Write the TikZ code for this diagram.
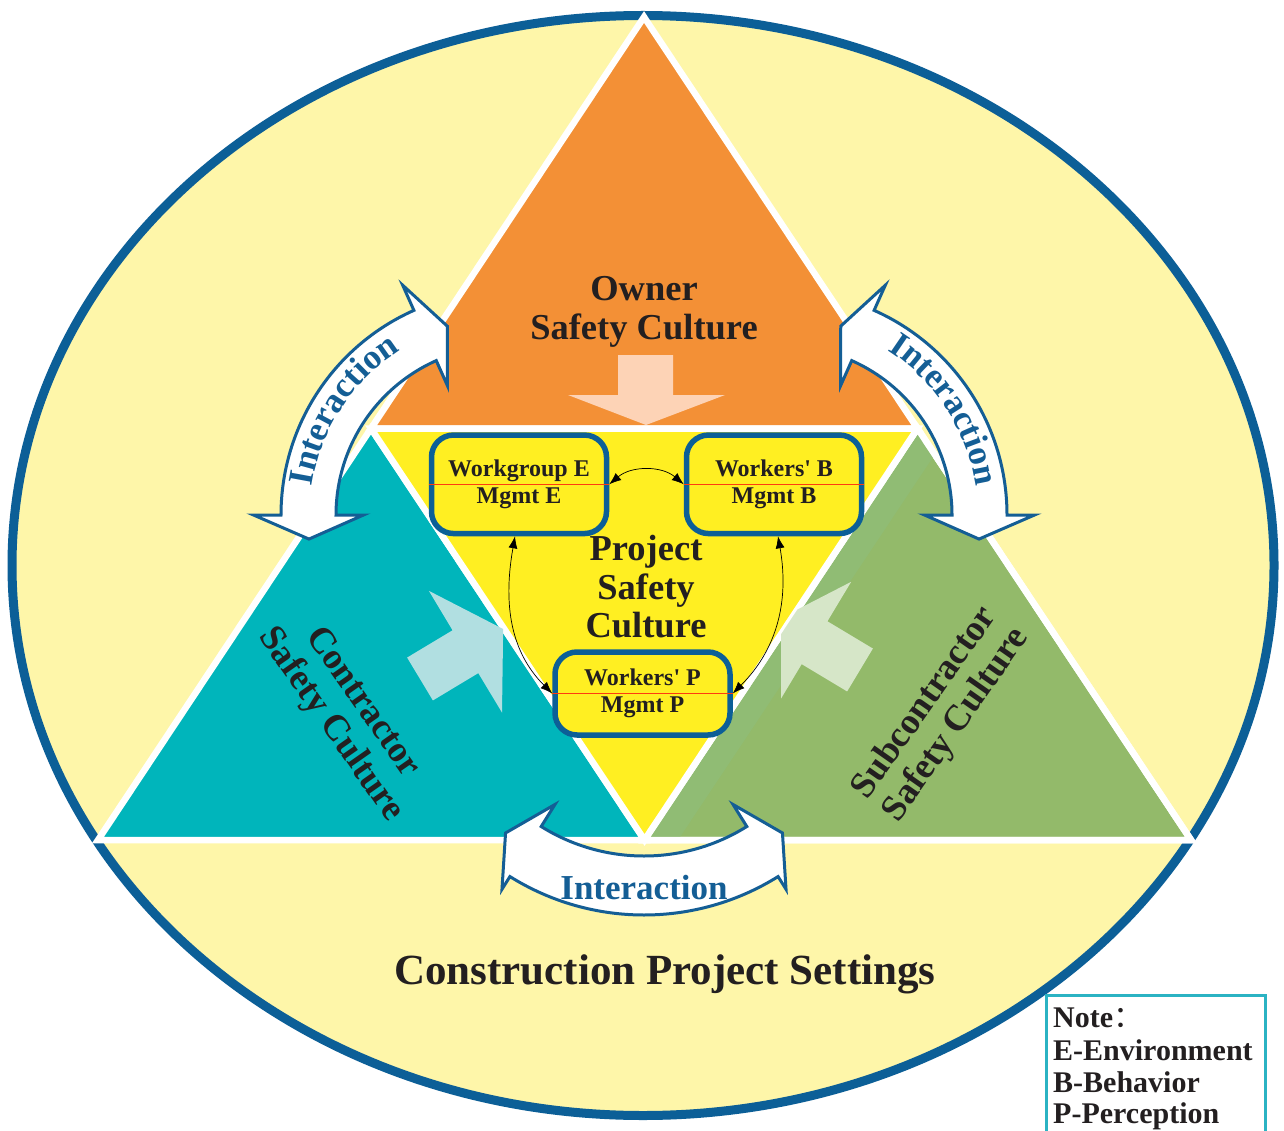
\documentclass[tikz,border=0pt]{standalone}
\usepackage{fontspec}
\setmainfont{Liberation Serif}
\newfontfamily\cjk{Noto Sans CJK SC}
\usetikzlibrary{arrows.meta,decorations.text}
\definecolor{ebg}{HTML}{FEF6A9}
\definecolor{eblue}{HTML}{0C5F97}
\definecolor{orng}{HTML}{F39036}
\definecolor{yel}{HTML}{FFEF22}
\definecolor{cyn}{HTML}{00B5BB}
\definecolor{grn}{HTML}{93BA6A}
\definecolor{grn2}{HTML}{90BC74}
\definecolor{peach}{HTML}{FDD3B6}
\definecolor{lcyn}{HTML}{B1DFE1}
\definecolor{lgrn}{HTML}{D6E6C8}
\definecolor{txt}{HTML}{231F20}
\definecolor{redl}{HTML}{FF3B10}
\definecolor{notec}{HTML}{2BB3C3}
\definecolor{ablue}{HTML}{145E95}
\newcommand{\myfs}[2]{\fontsize{#1}{#2}\selectfont}
\newcommand{\itxt}{\bfseries\fontsize{35}{35}\selectfont\color{ablue}}
\begin{document}
\begin{tikzpicture}[x=1pt, y=-1pt,
  tri/.style={draw=white, line width=6.5pt, line join=miter},
  iarrow/.style={fill=white, draw=ablue, line width=3pt, line join=miter},
  boxst/.style={draw=eblue, line width=5.5pt, fill=yel, rounded corners=22pt, minimum width=175pt, inner sep=0pt, align=center, text=txt, font=\bfseries\myfs{24}{26.5}},
  redline/.style={draw=redl, line width=1.5pt},
  conn/.style={draw=black, line width=0.7pt, {Latex[length=12pt,width=9pt]}-{Latex[length=12pt,width=9pt]}},
  ttl/.style={font=\bfseries\myfs{36.5}{38.5}, text=txt, inner sep=0pt},
  notetxt/.style={font=\bfseries\myfs{30}{32}, text=txt, inner sep=0pt, anchor=base west}
]
\useasboundingbox (0,0) rectangle (1284,1131);
\fill[white] (0,0) rectangle (1284,1131);
% ellipse
\draw[fill=ebg, draw=eblue, line width=9pt] (643,565.5) ellipse [x radius=631, y radius=550];
% triangle vertices
\coordinate (A) at (644,17);
\coordinate (BL) at (98,840);
\coordinate (BR) at (1191,840);
\coordinate (ML) at (371,428.5);
\coordinate (MR) at (917.5,428.5);
\coordinate (MB) at (644.5,840);
\filldraw[tri, fill=orng] (A) -- (ML) -- (MR) -- cycle;
\filldraw[tri, fill=cyn] (ML) -- (BL) -- (MB) -- cycle;
\filldraw[tri, fill=grn] (MR) -- (MB) -- (BR) -- cycle;
\begin{scope}
  \clip (MR) -- (MB) -- (BR) -- cycle;
  \fill[grn2] (MR) -- (MB) -- (678,840) -- (947,436) -- cycle;
\end{scope}
\draw[tri] (MR) -- (MB) -- (BR) -- cycle;
\filldraw[tri, fill=yel] (ML) -- (MR) -- (MB) -- cycle;
% light arrows
\fill[peach] (618,355) -- (673,355) -- (673,395) -- (725,395) -- (646,425) -- (568,395) -- (618,395) -- cycle;
\begin{scope}
  \clip (ML) -- (BL) -- (MB) -- cycle;
  \clip (0,0) rectangle (506,1131);
  \fill[lcyn, shift={(420,679)}, rotate=31] (0,-25) -- (53,-25) -- (53,-71) -- (97,0) -- (53,71) -- (53,25) -- (0,25) -- cycle;
\end{scope}
\begin{scope}
  \clip (MR) -- (MB) -- (BR) -- cycle;
  \clip (781,0) rectangle (1284,1131);
  \fill[lgrn, shift={(860,670)}, rotate=149] (0,-25) -- (53,-25) -- (53,-71) -- (97,0) -- (53,71) -- (53,25) -- (0,25) -- cycle;
\end{scope}
% triangle texts
\node[ttl, anchor=base] (o1) at (644,301) {Owner};
\node[ttl, anchor=base] (o2) at (644,339) {Safety Culture};
\node[ttl, anchor=base] (p1) at (646,560) {Project};
\node[ttl, anchor=base] (p2) at (646,599) {Safety};
\node[ttl, anchor=base] (p3) at (646,637) {Culture};
\node[ttl, align=center, rotate=-55] (ct) at (346,714) {Contractor\\Safety Culture};
\node[ttl, align=center, rotate=55] (sc) at (941,714) {Subcontractor\\Safety Culture};
% boxes
\node[boxst, minimum height=98.5pt] (E) at (519,484.3) {Workgroup E\\Mgmt E};
\node[boxst, minimum height=98.5pt] (B) at (774,484.3) {Workers\textquotesingle{} B\\Mgmt B};
\node[boxst, minimum height=83pt] (P) at (642.5,693.5) {Workers\textquotesingle{} P\\Mgmt P};
\draw[redline] (E.west) -- (E.east);
\draw[redline] (B.west) -- (B.east);
\draw[redline] (P.west) -- (P.east);
% connectors
\draw[conn] (E.east) to[out=40,in=140] (B.west);
\draw[conn] ([xshift=-4pt]E.south) to[out=260,in=135] (P.west);
\draw[conn] ([xshift=4pt]B.south) to[out=280,in=45] (P.east);
% interaction arrows
\coordinate (CL) at (505,515);
\coordinate (CR) at (783,515);
\coordinate (CB) at (644,662);
\draw[iarrow] ([shift={(-114:224)}]CL) arc[start angle=-114, end angle=-180, radius=224]
  -- ([shift={(-180:251.5)}]CL) -- ([shift={(-187:197.5)}]CL) -- ([shift={(-180:141.5)}]CL)
  -- ([shift={(-180:169)}]CL) arc[start angle=-180, end angle=-114, radius=169]
  -- ([shift={(-114:141.5)}]CL) -- ([shift={(-107:197.5)}]CL) -- ([shift={(-114:251.5)}]CL) -- cycle;
\draw[iarrow] ([shift={(-66:224)}]CR) arc[start angle=-66, end angle=0, radius=224]
  -- ([shift={(0:251.5)}]CR) -- ([shift={(7:197.5)}]CR) -- ([shift={(0:141.5)}]CR)
  -- ([shift={(0:169)}]CR) arc[start angle=0, end angle=-66, radius=169]
  -- ([shift={(-66:141.5)}]CR) -- ([shift={(-73:197.5)}]CR) -- ([shift={(-66:251.5)}]CR) -- cycle;
\draw[iarrow] ([shift={(-238:253)}]CB) arc[start angle=-238, end angle=-302, radius=253]
  -- ([shift={(-302:268)}]CB) -- ([shift={(-309:220)}]CB) -- ([shift={(-302:168)}]CB)
  -- ([shift={(-302:194)}]CB) arc[start angle=-302, end angle=-238, radius=194]
  -- ([shift={(-238:168)}]CB) -- ([shift={(-231:220)}]CB) -- ([shift={(-238:268)}]CB) -- cycle;
\path[decorate, decoration={text along path, text={|\itxt|Interaction}, text align=center}]
  ([shift={(-183:195)}]CL) arc[start angle=-183, end angle=-111, radius=195];
\path[decorate, decoration={text along path, text={|\itxt|Interaction}, text align=center}]
  ([shift={(-69:195)}]CR) arc[start angle=-69, end angle=3, radius=195];
\node[inner sep=0pt, anchor=base, font=\bfseries\myfs{35}{35}, text=ablue] (ib) at (644,899) {Interaction};
% title
\node[inner sep=0pt, anchor=base, font=\bfseries\myfs{43}{43}, text=txt] (cps) at (665,984) {Construction Project Settings};
% note
\draw[draw=notec, line width=3pt, fill=white] (1046.5,995) rectangle (1265.5,1145);
\node[notetxt] (n1) at (1053,1027) {Note{\cjk\mdseries ：}};
\node[notetxt] (n2) at (1053,1060) {E-Environment};
\node[notetxt] (n3) at (1053,1092) {B-Behavior};
\node[notetxt] (n4) at (1053,1123.5) {P-Perception};
\end{tikzpicture}
\end{document}
